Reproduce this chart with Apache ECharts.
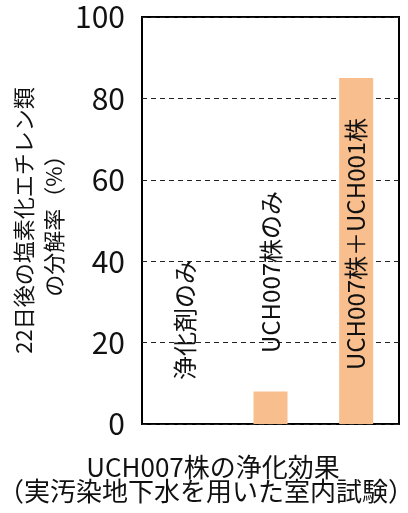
<!DOCTYPE html>
<html>
<head>
<meta charset="utf-8">
<script src="https://cdn.jsdelivr.net/npm/echarts@6/dist/echarts.min.js"></script>
<style>
  html, body { margin: 0; padding: 0; background: #fff; }
  #main { width: 408px; height: 513px; }
</style>
</head>
<body>
<div id="main"></div>
<script>
// data
var categories = ['浄化剤のみ', 'UCH007株のみ', 'UCH007株＋UCH001株'];
var rates = [0, 8, 85];
var labelGaps = [44, 71, 54];   // distance of the in-plot label from the axis
var yTicks = [0, 20, 40, 60, 80, 100];
var yName = '22日後の塩素化エチレン類\nの分解率（%）';
var xNameLines = ['UCH007株の浄化効果', '（実汚染地下水を用いた室内試験）'];

var FONT = '"Noto Sans CJK JP", "Noto Sans", sans-serif';

var chart = echarts.init(document.getElementById('main'));

var seriesData = rates.map(function (v, i) {
    return {
        value: v,
        label: { distance: labelGaps[i] }
    };
});

var xNameStyle = {
    fontFamily: FONT,
    fontSize: 26,
    fill: '#111',
    textAlign: 'center',
    textVerticalAlign: 'middle'
};

var option = {
    animation: false,
    grid: {
        left: 142, right: 9, top: 17, bottom: 89,
        outerBoundsMode: 'none',
        containLabel: false,
        show: true,
        borderColor: '#000',
        borderWidth: 2,
        backgroundColor: 'transparent'
    },
    xAxis: {
        type: 'category',
        data: categories,
        axisLine: { show: false },
        axisTick: { show: false },
        axisLabel: { show: false }
    },
    yAxis: {
        type: 'value',
        min: yTicks[0],
        max: yTicks[yTicks.length - 1],
        interval: 20,
        axisLine: { show: false },
        axisTick: { show: false },
        axisLabel: {
            fontFamily: FONT,
            fontSize: 30,
            color: '#111',
            margin: 17
        },
        splitLine: {
            lineStyle: { color: '#222', type: [5, 4], width: 1 }
        },
        name: yName,
        nameLocation: 'middle',
        nameGap: 73,
        nameMoveOverlap: false,
        nameRotate: 90,
        nameTextStyle: {
            fontFamily: FONT,
            fontSize: 22,
            lineHeight: 30,
            color: '#111',
            align: 'center'
        }
    },
    graphic: [
        { type: 'text', x: 213, y: 467, style: Object.assign({ text: xNameLines[0] }, xNameStyle) },
        { type: 'text', x: 206, y: 491, style: Object.assign({ text: xNameLines[1] }, xNameStyle) }
    ],
    series: [{
        type: 'bar',
        data: seriesData,
        barWidth: 34,
        itemStyle: { color: '#F9BE8E' },
        label: {
            show: true,
            position: 'insideBottom',
            rotate: 90,
            align: 'left',
            verticalAlign: 'middle',
            fontFamily: FONT,
            fontSize: 24,
            color: '#111',
            formatter: function (p) { return p.name; }
        }
    }]
};

chart.setOption(option);
</script>
</body>
</html>
